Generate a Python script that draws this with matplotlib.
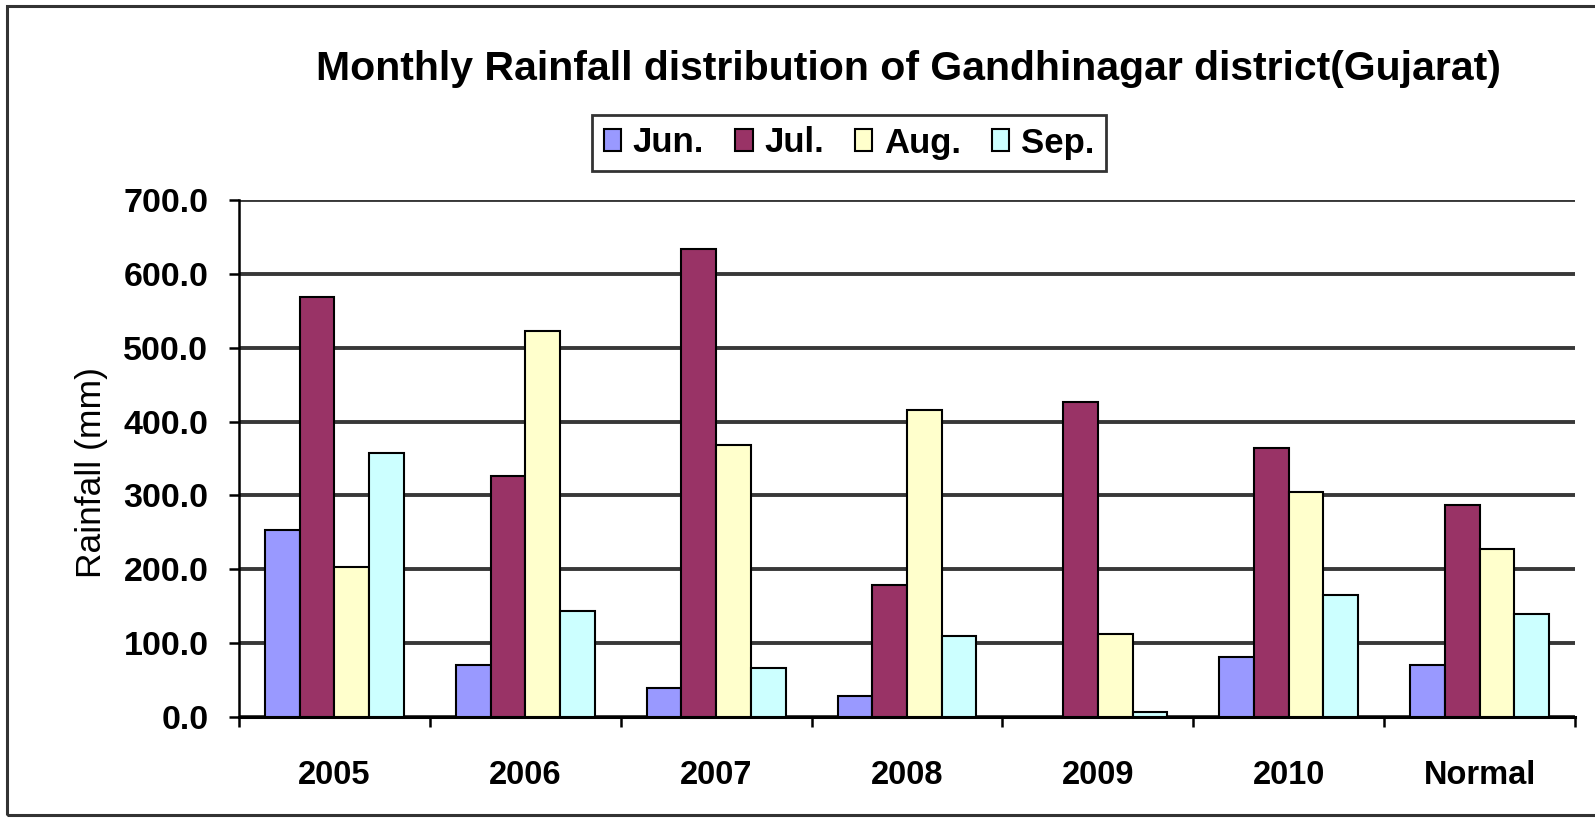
import matplotlib
matplotlib.use("Agg")
import matplotlib.pyplot as plt
import numpy as np
from matplotlib.patches import Rectangle

categories = ["2005", "2006", "2007", "2008", "2009", "2010", "Normal"]
months = ["Jun.", "Jul.", "Aug.", "Sep."]
jun = [253, 70, 39, 28, 0, 81, 70]
jul = [568, 326, 634, 179, 426, 364, 287]
aug = [203, 522, 368, 415, 113, 305, 228]
sep = [357, 143, 67, 109, 7, 165, 140]
yticks = [0, 100, 200, 300, 400, 500, 600, 700]
colors = ["#9999FF", "#993366", "#FFFFCC", "#CCFFFF"]

plt.rcParams['font.family'] = ['Liberation Sans', 'DejaVu Sans']

W, H = 1595, 824
fig = plt.figure(figsize=(W/100, H/100), dpi=100)
ax = fig.add_axes([239/W, 1 - 717/H, (1575-239)/W, (717-200)/H])

x = np.arange(len(categories))
w = 1 / 5.5
series = [jun, jul, aug, sep]
for i, (vals, c, m) in enumerate(zip(series, colors, months)):
    bars = ax.bar(x - 2*w + w/2 + i*w, vals, width=w, color=c, edgecolor="black",
                  linewidth=1.5, label=m, zorder=3)
    for b, v in zip(bars, vals):
        if v == 0:
            b.set_visible(False)

ax.set_xlim(-0.5, len(categories) - 0.5)
ax.set_ylim(0, 700)
ax.set_yticks(yticks)
ax.set_yticklabels([f"{v:.1f}" for v in yticks], fontsize=24.5, fontweight="bold")
ax.yaxis.grid(True, color="#383838", linewidth=2.8, zorder=0)
ax.set_axisbelow(True)

ax.set_xticks(x)
ax.set_xticklabels(categories, fontsize=23.5, fontweight="bold")
ax.tick_params(axis="x", length=0, pad=31)
ax.set_xticks(np.arange(-0.5, len(categories) + 0.5, 1), minor=True)
ax.tick_params(axis="x", which="minor", length=7, width=1.8, direction="out")
ax.tick_params(axis="y", length=7, width=1.8, direction="out", pad=15)

for s in ["top", "right"]:
    ax.spines[s].set_visible(False)
ax.spines["left"].set_linewidth(1.8)
ax.spines["bottom"].set_linewidth(2.2)

ax.set_ylabel("Rainfall (mm)", fontsize=25.5, va="center")
ax.yaxis.set_label_coords((92 - 239) / (1575 - 239), (717 - 472.5) / (717 - 200))

fig.text(908/W, 1 - 69/H, "Monthly Rainfall distribution of Gandhinagar district(Gujarat)",
         ha="center", va="center", fontsize=29.5, fontweight="bold")

leg = fig.legend(loc="center", bbox_to_anchor=(849/W, 1 - 143/H), ncol=4,
                 prop={"size": 25, "weight": "bold"}, frameon=True, fancybox=False,
                 edgecolor="black", handlelength=0.5, handleheight=0.6,
                 handletextpad=0.33, columnspacing=0.9, borderpad=0.33)
leg.get_frame().set_linewidth(2)

fig.patches.append(Rectangle((7/W, 1 - 815/H), 1.2, (815-6)/H, transform=fig.transFigure,
                             fill=False, edgecolor="#333333", linewidth=2.2))

fig.savefig("out.png", dpi=100)
